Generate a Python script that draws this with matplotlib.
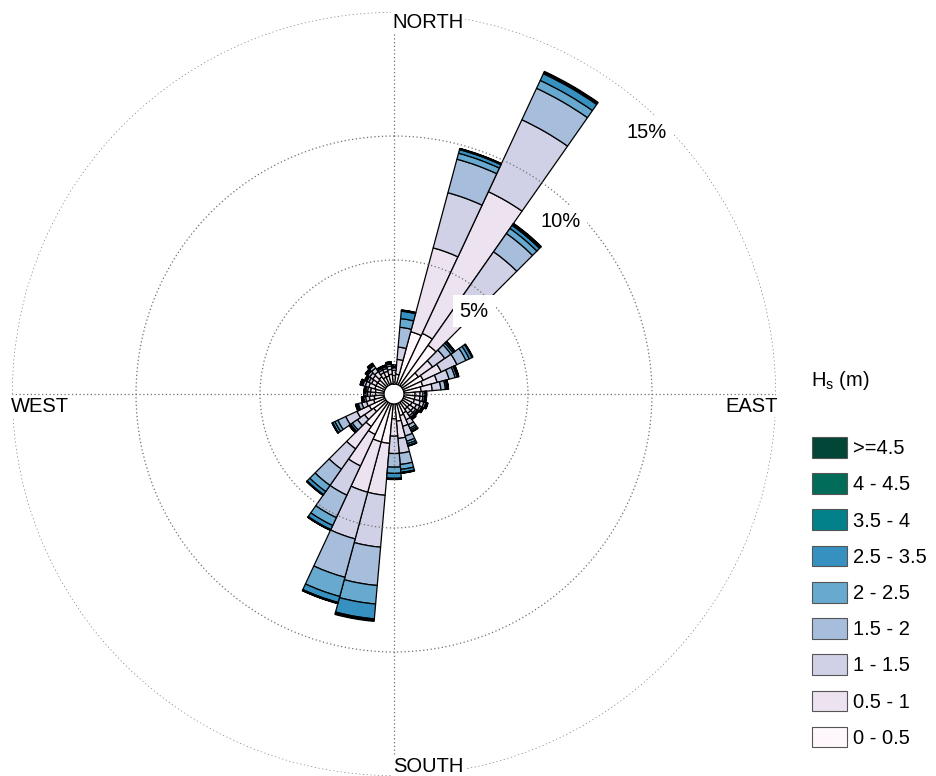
import numpy as np
import matplotlib.pyplot as plt
from matplotlib.patches import Patch

plt.rcParams['font.family'] = ['Liberation Sans', 'DejaVu Sans']

# direction bins (deg from north, clockwise), 10 deg wide
directions = np.arange(0, 360, 10)

bin_labels = ['0 - 0.5', '0.5 - 1', '1 - 1.5', '1.5 - 2', '2 - 2.5',
              '2.5 - 3.5', '3.5 - 4', '4 - 4.5', '>=4.5']
bin_colors = ['#fff7fb', '#ece2f0', '#d0d1e6', '#a6bddb', '#67a9cf',
              '#3690c0', '#02818a', '#016c59', '#014636']

# frequency (%) per direction for each Hs class
hs_0_05 = [0.35, 0.4, 2.2, 2.3, 2.0, 0.8, 0.9, 0.8, 0.7, 0.45, 0.45, 0.45,
           0.4, 0.35, 0.35, 0.45, 0.5, 0.7, 0.6, 1.6, 1.6, 1.4, 1.2, 0.6,
           0.7, 0.45, 0.4, 0.35, 0.35, 0.4, 0.4, 0.4, 0.45, 0.35, 0.35, 0.4]
hs_05_1 = [0.2, 0.6, 3.5, 6.3, 2.4, 0.7, 0.8, 0.6, 0.45, 0.2, 0.2, 0.25,
           0.2, 0.2, 0.2, 0.3, 0.45, 0.7, 0.7, 2.1, 2.1, 1.4, 1.1, 0.45,
           0.55, 0.3, 0.2, 0.2, 0.2, 0.25, 0.2, 0.25, 0.25, 0.2, 0.2, 0.2]
hs_1_15 = [0.1, 0.5, 2.3, 3.2, 2.2, 0.6, 0.7, 0.5, 0.35, 0.12, 0.12, 0.15,
           0.15, 0.12, 0.12, 0.22, 0.4, 0.6, 0.7, 2.1, 1.95, 1.3, 1.0, 0.35,
           0.5, 0.2, 0.15, 0.12, 0.12, 0.15, 0.12, 0.15, 0.18, 0.12, 0.12, 0.13]
hs_15_2 = [0.05, 0.8, 1.4, 1.4, 0.9, 0.3, 0.4, 0.25, 0.18, 0.07, 0.07, 0.08,
           0.08, 0.07, 0.08, 0.15, 0.22, 0.45, 0.55, 1.55, 1.6, 1.0, 0.8, 0.25,
           0.35, 0.14, 0.08, 0.07, 0.07, 0.1, 0.09, 0.1, 0.12, 0.07, 0.07, 0.08]
hs_2_25 = [0.02, 0.35, 0.25, 0.35, 0.25, 0.1, 0.15, 0.08, 0.06, 0.03, 0.03, 0.03,
           0.03, 0.03, 0.04, 0.07, 0.1, 0.2, 0.25, 0.75, 0.8, 0.35, 0.3, 0.08,
           0.13, 0.05, 0.03, 0.03, 0.03, 0.05, 0.04, 0.05, 0.05, 0.03, 0.03, 0.04]
hs_25_35 = [0.02, 0.3, 0.15, 0.3, 0.15, 0.07, 0.12, 0.05, 0.04, 0.02, 0.02, 0.03,
            0.03, 0.02, 0.04, 0.07, 0.08, 0.12, 0.2, 0.6, 0.25, 0.18, 0.15, 0.05,
            0.1, 0.04, 0.03, 0.02, 0.02, 0.04, 0.03, 0.04, 0.04, 0.02, 0.02, 0.03]
hs_35_4 = [0.01, 0.02, 0.03, 0.04, 0.05, 0.01, 0.02, 0.01, 0.01, 0.01, 0.01, 0.01,
           0.01, 0.01, 0.01, 0.01, 0.01, 0.02, 0.02, 0.04, 0.02, 0.02, 0.02, 0.01,
           0.01, 0.01, 0.01, 0.01, 0.01, 0.01, 0.01, 0.01, 0.01, 0.01, 0.01, 0.01]
hs_4_45 = [0.01, 0.02, 0.01, 0.03, 0.03, 0.01, 0.01, 0.01, 0.01, 0.01, 0.01, 0.01,
           0.01, 0.01, 0.01, 0.01, 0.01, 0.01, 0.02, 0.03, 0.02, 0.01, 0.01, 0.01,
           0.01, 0.01, 0.01, 0.01, 0.01, 0.01, 0.01, 0.01, 0.01, 0.01, 0.01, 0.01]
hs_45 = [0.01, 0.01, 0.01, 0.03, 0.02, 0.01, 0.01, 0.01, 0.01, 0.01, 0.01, 0.01,
         0.01, 0.01, 0.01, 0.01, 0.01, 0.01, 0.01, 0.03, 0.01, 0.01, 0.01, 0.01,
         0.01, 0.01, 0.01, 0.01, 0.01, 0.01, 0.01, 0.01, 0.01, 0.01, 0.01, 0.01]

classes = [hs_0_05, hs_05_1, hs_1_15, hs_15_2, hs_2_25, hs_25_35,
           hs_35_4, hs_4_45, hs_45]

rings = [5, 10, 15]

fig = plt.figure(figsize=(9.36, 7.76), dpi=100)
ax = fig.add_axes([12 / 936, 0, 764 / 936, 764 / 776], projection='polar')
ax.set_theta_zero_location('N')
ax.set_theta_direction(-1)
ax.set_ylim(0, 15)
ax.set_rorigin(-0.4)

theta = np.deg2rad(directions)
bottom = np.zeros(len(directions))
for vals, col in zip(classes, bin_colors):
    vals = np.array(vals)
    ax.bar(theta, vals, width=np.deg2rad(10), bottom=bottom, color=col,
           edgecolor='black', linewidth=0.9, align='center')
    bottom += vals

ax.set_thetagrids([0, 90, 180, 270], labels=['', '', '', ''])
ax.set_yticks(rings)
ax.set_yticklabels([])
ax.spines['polar'].set_visible(False)
ax.set_axisbelow(False)
ax.grid(True, color='#707070', linestyle=(0, (1, 2)), linewidth=0.9)

for r in rings:
    ax.text(np.deg2rad(44), r - 0.75, f'{r}%', ha='center', va='center',
            fontsize=14.5, zorder=5,
            bbox=dict(facecolor='white', edgecolor='none', pad=5))

box = dict(facecolor='white', edgecolor='none', pad=1)
fig.text(392 / 936, 1 - 28 / 776, 'NORTH', ha='left', va='baseline',
         fontsize=14.5, bbox=box)
fig.text(393 / 936, 1 - 772 / 776, 'SOUTH', ha='left', va='baseline',
         fontsize=14.5, bbox=box)
fig.text(11 / 936, 1 - 412 / 776, 'WEST', ha='left', va='baseline',
         fontsize=14.5, bbox=box)
fig.text(778 / 936, 1 - 412 / 776, 'EAST', ha='right', va='baseline',
         fontsize=14.5, bbox=box)

# legend
fig.text(811 / 936, 1 - 380 / 776, r'H$_\mathregular{s}$ (m)', ha='left',
         va='center', fontsize=14.5)
handles = [Patch(facecolor=c, edgecolor='#555555', linewidth=0.8, label=l)
           for c, l in zip(bin_colors[::-1], bin_labels[::-1])]
fig.legend(handles=handles, loc='upper left',
           bbox_to_anchor=(812 / 936, 1 - 437 / 776), frameon=False,
           fontsize=14.5, handlelength=1.75, handleheight=1.2,
           handletextpad=0.3, labelspacing=0.75, borderpad=0,
           borderaxespad=0)

fig.savefig('out.png', dpi=100)
